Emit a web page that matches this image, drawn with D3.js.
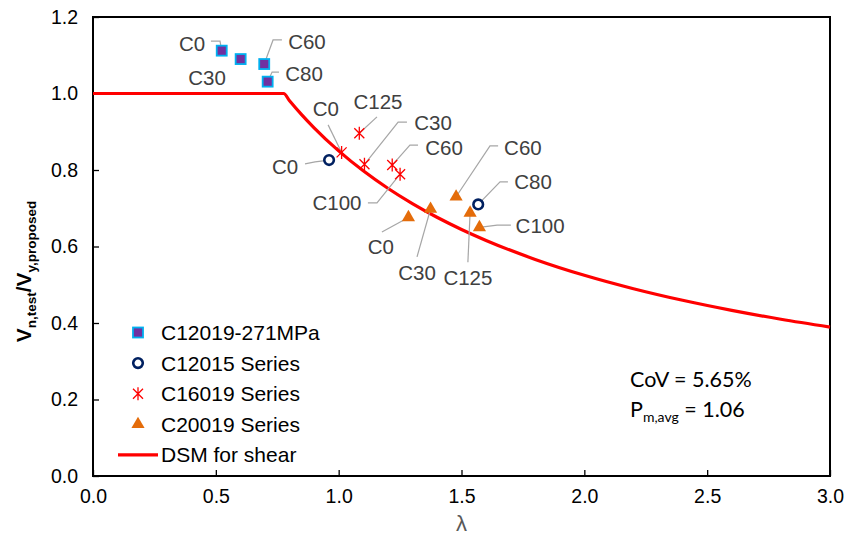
<!DOCTYPE html>
<html><head><meta charset="utf-8">
<script src="https://cdn.jsdelivr.net/npm/d3@7"></script>
<style>
html,body{margin:0;padding:0;background:#fff;}
svg{display:block;font-family:"Liberation Sans",Arial,sans-serif;}
</style></head>
<body>
<svg id="chart" width="848" height="541"></svg>
<script>
// ---- data ----
const xTicks = [0.0, 0.5, 1.0, 1.5, 2.0, 2.5, 3.0];
const yTicks = [0.0, 0.2, 0.4, 0.6, 0.8, 1.0, 1.2];

const c12019Lambda = [0.524, 0.601, 0.697, 0.711];
const c12019Ratio  = [1.112, 1.090, 1.077, 1.031];
const c12019Labels = ["C0", "C30", "C60", "C80"];

const c12015Lambda = [0.961, 1.568];
const c12015Ratio  = [0.826, 0.710];
const c12015Labels = ["C0", "C80"];

const c16019Lambda = [1.012, 1.084, 1.105, 1.218, 1.250];
const c16019Ratio  = [0.846, 0.896, 0.815, 0.813, 0.789];
const c16019Labels = ["C0", "C125", "C30", "C60", "C100"];

const c20019Lambda = [1.284, 1.374, 1.478, 1.535, 1.573];
const c20019Ratio  = [0.676, 0.698, 0.730, 0.688, 0.650];
const c20019Labels = ["C0", "C30", "C60", "C125", "C100"];

// DSM for shear curve, sampled
const dsmLambda = [0.0, 0.776, 0.8, 0.85, 0.9, 1.0, 1.1, 1.2, 1.3, 1.4, 1.5, 1.6, 1.8, 2.0, 2.2, 2.4, 2.6, 2.8, 3.0];
const dsmRatio  = [1.0, 1.0, 0.9811, 0.9443, 0.9104, 0.85, 0.7978, 0.7522, 0.7121, 0.6764, 0.6446, 0.6159, 0.5663, 0.5248, 0.4897, 0.4594, 0.4331, 0.4099, 0.3894];

const legendNames = ["C12019-271MPa", "C12015 Series", "C16019 Series", "C20019 Series", "DSM for shear"];

// label placement (data units): text centre, leader start, optional elbow
const c12019Place = [
  {t:[0.403,1.132], s:[0.480,1.137], e:[0.517,1.137]},
  {t:[0.464,1.043]},
  {t:[0.871,1.135], s:[0.769,1.140], e:[0.733,1.140]},
  {t:[0.859,1.051], s:[0.757,1.056], e:[0.729,1.056]}
];
const c12015Place = [
  {t:[0.782,0.810], s:[0.863,0.816], e:[0.904,0.821]},
  {t:[1.791,0.769], s:[1.689,0.769], e:[1.657,0.769]}
];
const c16019Place = [
  {t:[0.948,0.962], s:[0.957,0.918]},
  {t:[1.160,0.978], s:[1.156,0.939]},
  {t:[1.384,0.925], s:[1.278,0.925], e:[1.242,0.925]},
  {t:[1.429,0.858], s:[1.323,0.865], e:[1.290,0.865]},
  {t:[0.993,0.714], s:[1.119,0.714], e:[1.156,0.714]}
];
const c20019Place = [
  {t:[1.172,0.599], s:[1.176,0.638]},
  {t:[1.319,0.533], s:[1.319,0.573]},
  {t:[1.750,0.860], s:[1.649,0.863], e:[1.616,0.863]},
  {t:[1.526,0.520], s:[1.526,0.559]},
  {t:[1.820,0.654], s:[1.701,0.656], e:[1.645,0.656]}
];

// ---- layout ----
const svg = d3.select("#chart");
const L = 93, R = 830, T = 17, B = 476;
const x = d3.scaleLinear().domain([0, 3]).range([L, R]);
const y = d3.scaleLinear().domain([0, 1.2]).range([B, T]);

// frame
svg.append("rect").attr("x", L).attr("y", T).attr("width", R - L).attr("height", B - T)
  .attr("fill", "none").attr("stroke", "#000").attr("stroke-width", 2);

// x axis
const xAxis = svg.append("g").attr("transform", `translate(0,${B})`)
  .call(d3.axisBottom(x).tickValues(xTicks).tickFormat(d3.format(".1f")).tickSizeInner(-6).tickSizeOuter(0).tickPadding(13));
xAxis.select(".domain").remove();
xAxis.selectAll("line").attr("stroke", "#000").attr("stroke-width", 1.3);
xAxis.selectAll("text").attr("font-size", 19.5).attr("fill", "#000").attr("font-family", "Liberation Sans, Arial, sans-serif");

// y axis
const yAxis = svg.append("g").attr("transform", `translate(${L},0)`)
  .call(d3.axisLeft(y).tickValues(yTicks).tickFormat(d3.format(".1f")).tickSizeInner(-6).tickSizeOuter(0).tickPadding(15));
yAxis.select(".domain").remove();
yAxis.selectAll("line").attr("stroke", "#000").attr("stroke-width", 1.3);
yAxis.selectAll("text").attr("font-size", 19.5).attr("fill", "#000").attr("font-family", "Liberation Sans, Arial, sans-serif");

// axis titles
svg.append("text").attr("x", x(1.5)).attr("y", 531).attr("text-anchor", "middle")
  .attr("font-size", 22).attr("fill", "#595959").text("λ");

const yt = svg.append("text").attr("transform", `translate(31,${(T + B) / 2 + 25}) rotate(-90)`)
  .attr("text-anchor", "middle").attr("font-size", 21).attr("font-weight", "bold").attr("fill", "#000");
yt.append("tspan").text("V");
yt.append("tspan").attr("font-size", 13.5).attr("dy", 5).text("n,test");
yt.append("tspan").attr("dy", -5).text("/V");
yt.append("tspan").attr("font-size", 13.5).attr("dy", 5).text("y,proposed");

// DSM curve
const dsmData = dsmLambda.map((l, i) => [l, dsmRatio[i]]);
svg.append("path").datum(dsmData)
  .attr("d", d3.line().x(d => x(d[0])).y(d => y(d[1])).curve(d3.curveMonotoneX))
  .attr("fill", "none").attr("stroke", "#ff0000").attr("stroke-width", 3.2);

// leader lines + labels
function annotate(lams, rats, labels, place) {
  labels.forEach((lab, i) => {
    const p = place[i];
    if (p.s) {
      const pts = [p.s];
      if (p.e) pts.push(p.e);
      pts.push([lams[i], rats[i]]);
      svg.append("path")
        .attr("d", d3.line().x(d => x(d[0])).y(d => y(d[1]))(pts))
        .attr("fill", "none").attr("stroke", "#a6a6a6").attr("stroke-width", 1.2);
    }
    svg.append("text").attr("x", x(p.t[0])).attr("y", y(p.t[1]))
      .attr("text-anchor", "middle").attr("dominant-baseline", "central")
      .attr("font-size", 20.5).attr("fill", "#404040").text(lab);
  });
}
annotate(c12019Lambda, c12019Ratio, c12019Labels, c12019Place);
annotate(c12015Lambda, c12015Ratio, c12015Labels, c12015Place);
annotate(c16019Lambda, c16019Ratio, c16019Labels, c16019Place);
annotate(c20019Lambda, c20019Ratio, c20019Labels, c20019Place);

// marker drawers
const starPath = r => `M${-r},${-r}L${r},${r}M${-r},${r}L${r},${-r}M0,${-r * 1.3}L0,${r * 1.3}`;
function drawSquare(g) {
  g.append("rect").attr("x", -5).attr("y", -5).attr("width", 10).attr("height", 10)
    .attr("fill", "#7030a0").attr("stroke", "#00b0f0").attr("stroke-width", 1.8);
}
function drawCircle(g) {
  g.append("circle").attr("r", 4.8).attr("fill", "#fff").attr("stroke", "#002060").attr("stroke-width", 2.6);
}
function drawStar(g) {
  g.append("path").attr("d", starPath(5)).attr("fill", "none").attr("stroke", "#ff0000").attr("stroke-width", 1.3);
}
function drawTri(g) {
  g.append("path").attr("d", d3.symbol(d3.symbolTriangle, 75)()).attr("fill", "#e46c0a");
}
function plotSeries(lams, rats, drawer) {
  lams.forEach((l, i) => {
    const g = svg.append("g").attr("transform", `translate(${x(l)},${y(rats[i])})`);
    drawer(g);
  });
}
plotSeries(c12019Lambda, c12019Ratio, drawSquare);
plotSeries(c12015Lambda, c12015Ratio, drawCircle);
plotSeries(c16019Lambda, c16019Ratio, drawStar);
plotSeries(c20019Lambda, c20019Ratio, drawTri);

// legend
const legY0 = 332.5, legDY = 30.6;
const drawers = [drawSquare, drawCircle, drawStar, drawTri];
legendNames.forEach((name, i) => {
  const cy = legY0 + i * legDY;
  if (i < 4) {
    const g = svg.append("g").attr("transform", `translate(138,${cy})`);
    drawers[i](g);
  } else {
    svg.append("line").attr("x1", 118).attr("x2", 158).attr("y1", cy).attr("y2", cy)
      .attr("stroke", "#ff0000").attr("stroke-width", 3.2);
  }
  svg.append("text").attr("x", 161).attr("y", cy).attr("dominant-baseline", "central")
    .attr("font-size", 21).attr("fill", "#000").text(name);
});

// annotation
const ann = svg.append("g").attr("font-family", "Lato, 'Open Sans', sans-serif").attr("font-size", 21.5).attr("fill", "#000");
ann.append("text").attr("x", 630).attr("y", 387).text("CoV = 5.65%");
const pt = ann.append("text").attr("x", 630).attr("y", 417);
pt.append("tspan").text("P");
pt.append("tspan").attr("font-size", 14).attr("dy", 5).text("m,avg");
pt.append("tspan").attr("dy", -5).text(" = 1.06");
</script>
</body></html>
